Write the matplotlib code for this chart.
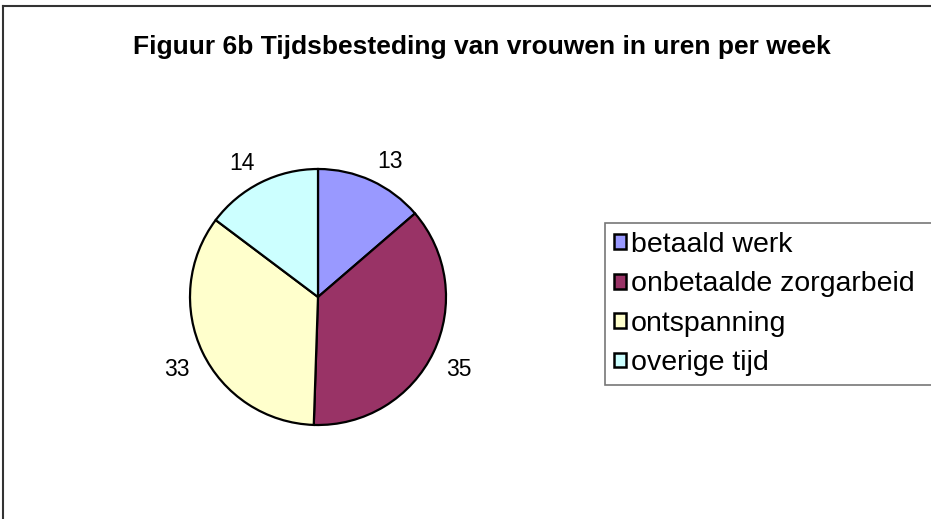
import matplotlib
matplotlib.use("Agg")
import matplotlib.pyplot as plt
from matplotlib.lines import Line2D
from matplotlib.patches import Patch
import numpy as np

plt.rcParams['font.family'] = ['Liberation Sans', 'DejaVu Sans']

title = "Figuur 6b Tijdsbesteding van vrouwen in uren per week"
categories = ["betaald werk", "onbetaalde zorgarbeid", "ontspanning", "overige tijd"]
values = [13, 35, 33, 14]
colors = ["#9999FF", "#993366", "#FFFFCC", "#CCFFFF"]

W, H = 931, 519
fig = plt.figure(figsize=(W / 100, H / 100), dpi=100)
fig.patch.set_facecolor("white")

cx, cy, r = 318, 297, 128
ax = fig.add_axes([(cx - r) / W, (H - cy - r) / H, 2 * r / W, 2 * r / H])
wedges, texts = ax.pie(values, colors=colors, startangle=90, counterclock=False,
                       labels=[str(v) for v in values], labeldistance=1.11,
                       wedgeprops=dict(edgecolor="black", linewidth=1.6),
                       textprops=dict(fontsize=16.5))
for w, t in zip(wedges, texts):
    ang = np.deg2rad((w.theta1 + w.theta2) / 2)
    t.set_ha("left" if np.cos(ang) > 0 else "right")
    t.set_va("baseline" if np.sin(ang) > 0 else "top")
ax.set_xlim(-1, 1)
ax.set_ylim(-1, 1)
ax.set_aspect("auto")
ax.axis("off")

fig.text(482 / W, 1 - 47 / H, title, ha="center", va="center",
         fontsize=19, fontweight="bold")

handles = [Patch(facecolor=c, edgecolor="black", linewidth=1.8) for c in colors]
leg = fig.legend(handles, categories, loc="upper left",
                 bbox_to_anchor=(605 / W, 1 - 228 / H, 340 / W, 0.01), mode="expand",
                 fontsize=20.5,
                 frameon=True, fancybox=False, edgecolor="#555555",
                 handlelength=0.42, handleheight=0.42, handletextpad=0.17,
                 labelspacing=0.47, borderpad=0.32, borderaxespad=0)
leg.get_frame().set_linewidth(1.2)

fig.add_artist(Line2D([2.5 / W, 2.5 / W], [0, 1 - 5.5 / H], color="#333333", linewidth=1.5,
                      transform=fig.transFigure))
fig.add_artist(Line2D([2.5 / W, 1], [1 - 5.5 / H, 1 - 5.5 / H], color="#333333", linewidth=1.5,
                      transform=fig.transFigure))

fig.savefig("out.png", dpi=100, facecolor="white")
